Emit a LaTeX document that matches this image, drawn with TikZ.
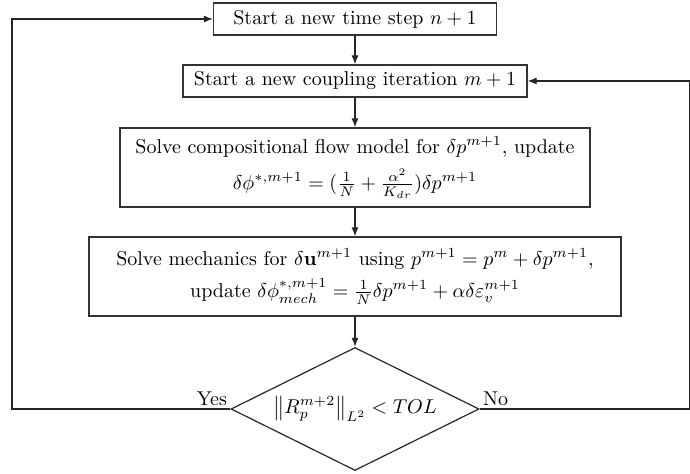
\documentclass[tikz,border=0pt]{standalone}
\usepackage{amsmath,amssymb}
\usetikzlibrary{shapes.geometric,arrows.meta}
\begin{document}
\begin{tikzpicture}[x=0.5pt,y=-0.5pt,
  box/.style={draw=black!80, line width=0.6pt, inner sep=0pt, align=center},
  dec/.style={draw=black!85, line width=0.6pt, shape=diamond, aspect=2, inner sep=0pt,
    minimum width=124pt, minimum height=61.5pt},
  arr/.style={draw=black!85, line width=0.6pt, -{Latex[length=4.5pt,width=3.5pt]}},
  ln/.style={draw=black!85, line width=0.6pt}]
\useasboundingbox (0,0) rectangle (690,474);
\node[box, minimum width=141.5pt, minimum height=16pt] (b1) at (355,19) {Start a new time step $n+1$};
\node[box, minimum width=172pt, minimum height=16pt] (b2) at (355,81) {Start a new coupling iteration $m+1$};
\node[box, minimum width=235pt, minimum height=39.5pt] (b3) at (355,167.5)
  {Solve compositional flow model for $\delta p^{m+1}$, update\\[5pt]
   $\delta\phi^{*,m+1} = (\frac{1}{N} + \frac{\alpha^2}{K_{dr}})\delta p^{m+1}$};
\node[box, minimum width=266pt, minimum height=39.5pt] (b4) at (355,276.5)
  {Solve mechanics for $\delta\mathbf{u}^{m+1}$ using $p^{m+1} = p^m + \delta p^{m+1}$,\\[4pt]
   update $\delta\phi^{*,m+1}_{mech} = \frac{1}{N}\delta p^{m+1} + \alpha\delta\varepsilon_v^{m+1}$};
\node[dec] (d) at (355,409) {$\left\|R_p^{m+2}\right\|_{L^2} < TOL$};
\coordinate (yl) at (12,409);
\coordinate (nr) at (690,409);
\draw[arr] (b1) -- (b2);
\draw[arr] (b2) -- (b3);
\draw[arr] (b3) -- (b4);
\draw[arr] (b4) -- (d);
\draw[arr] (d.west) -- (yl) |- (b1.west);
\draw[arr] (d.east) -- (nr) |- (b2.east);
\node[above left, inner sep=1.5pt] (yes) at (d.west) {Yes};
\node[above right, inner sep=1.5pt] (no) at (d.east) {No};
\end{tikzpicture}
\end{document}
